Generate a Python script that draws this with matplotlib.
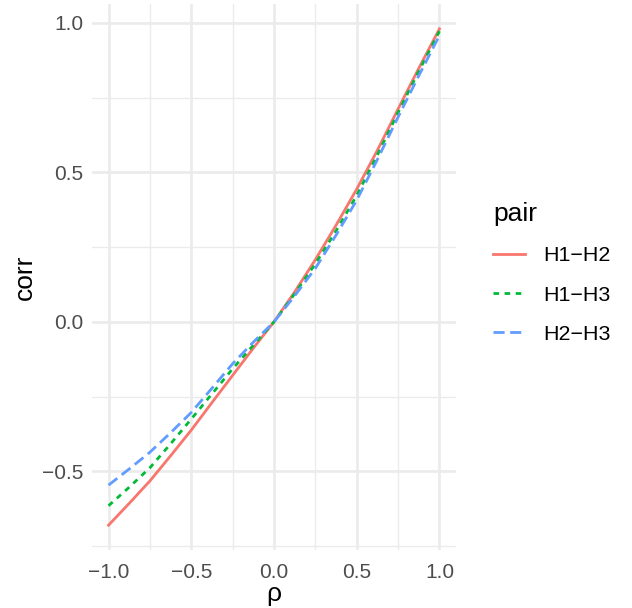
import numpy as np
import matplotlib.pyplot as plt
from matplotlib.ticker import MultipleLocator

# valores
rho = [-1.0, -0.875, -0.75, -0.625, -0.5, -0.375, -0.25, -0.125, 0.0,
       0.125, 0.25, 0.375, 0.5, 0.625, 0.75, 0.875, 1.0]
corr_h1h2 = [-0.680, -0.607, -0.532, -0.448, -0.362, -0.270, -0.179, -0.088, 0.0,
             0.100, 0.208, 0.323, 0.444, 0.574, 0.712, 0.848, 0.980]
corr_h1h3 = [-0.615, -0.553, -0.488, -0.408, -0.325, -0.241, -0.157, -0.078, 0.0,
             0.094, 0.194, 0.304, 0.423, 0.558, 0.700, 0.838, 0.972]
corr_h2h3 = [-0.546, -0.492, -0.436, -0.371, -0.303, -0.222, -0.140, -0.068, 0.0,
             0.087, 0.179, 0.290, 0.407, 0.543, 0.685, 0.823, 0.958]
pares = ["H1\u2212H2", "H1\u2212H3", "H2\u2212H3"]
cores = ["#F8766D", "#00BA38", "#619CFF"]
estilos = ["-", (0, (2, 2)), (0, (4, 2))]

plt.rcParams['font.family'] = ['Liberation Sans', 'DejaVu Sans']

fig = plt.figure(figsize=(6.32, 6.08), dpi=100)
ax = fig.add_axes([92 / 632, 1 - 550 / 608, 364 / 632, 546 / 608])

for serie, nome, cor, estilo in zip([corr_h1h2, corr_h1h3, corr_h2h3], pares, cores, estilos):
    ax.plot(rho, serie, color=cor, linestyle=estilo, linewidth=2.0, label=nome)

ax.set_xlim(-1.1, 1.1)
ax.set_ylim(-0.763, 1.063)
ax.xaxis.set_major_locator(MultipleLocator(0.5))
ax.yaxis.set_major_locator(MultipleLocator(0.5))
ax.xaxis.set_minor_locator(MultipleLocator(0.25))
ax.yaxis.set_minor_locator(MultipleLocator(0.25))
ax.grid(which='major', color='#EBEBEB', linewidth=1.9)
ax.grid(which='minor', color='#EBEBEB', linewidth=1.0)
ax.set_axisbelow(True)
for lado in ax.spines.values():
    lado.set_visible(False)
ax.tick_params(which='both', length=0, labelsize=15, labelcolor='#4D4D4D')
ax.tick_params(axis='x', pad=9)
ax.tick_params(axis='y', pad=6)

ax.set_xlabel("\u03c1", fontsize=19, labelpad=0)
ax.set_ylabel("corr", fontsize=19, labelpad=4)

leg = ax.legend(title="pair", loc='center left', bbox_to_anchor=(493 / 632, 1 - 273 / 608),
                bbox_transform=fig.transFigure, frameon=False, fontsize=15.4,
                title_fontsize=19, handlelength=1.5, handletextpad=0.85,
                labelspacing=0.95, alignment='left', borderpad=0, borderaxespad=0)

plt.savefig("out.png", dpi=100)
